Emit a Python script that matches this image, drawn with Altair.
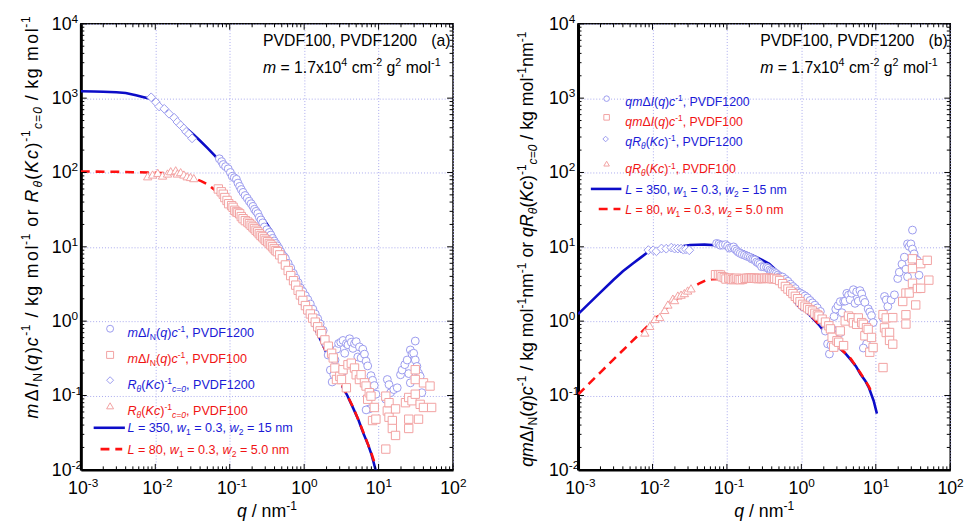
import altair as alt
import pandas as pd

F = "Liberation Sans"
W, H = 378, 453

# ---------------- data ----------------
circ_q = [0.0726, 0.0780, 0.0819, 0.0880, 0.0954, 0.102, 0.108, 0.115, 0.123, 0.129, 0.136, 0.143,
          0.151, 0.161, 0.172, 0.183, 0.194, 0.205, 0.215, 0.226, 0.238, 0.250, 0.263, 0.277, 0.292,
          0.315, 0.340, 0.357, 0.376, 0.395, 0.416, 0.437, 0.460, 0.485, 0.510, 0.535, 0.560, 0.610,
          0.660, 0.715, 0.770, 0.830, 0.890, 0.960, 1.04, 1.12, 1.21, 1.31, 1.41, 1.52, 1.64, 1.80,
          1.95, 2.10, 2.25, 2.38, 2.50, 2.60, 2.75, 2.90, 3.10, 3.33, 3.51, 3.70, 3.88, 4.08, 4.30,
          4.52, 4.75, 5.00, 5.26, 5.53, 5.82, 6.13, 6.46, 6.79, 7.14, 7.50, 6.80, 7.90, 8.30, 8.75,
          9.20, 3.33, 12.5, 13.1, 13.8, 14.5, 16.0, 17.8, 19.7, 20.7, 22.5, 24.2, 25.4, 26.7, 26.7,
          28.1, 29.6, 31.1, 31.1, 32.7, 34.4, 36.2, 38.1]
circ_y = [153, 140, 128, 120, 112, 100, 89, 85, 81, 72, 65, 59,
          54, 49, 45, 41, 38, 35, 32, 30, 28, 25, 23, 21, 18.5,
          17, 15.6, 14.4, 13, 12, 11.1, 10.3, 9.5, 8.6, 7.8, 7.4, 7.0, 6.0,
          5.2, 4.4, 3.8, 3.3, 2.8, 2.5, 2.2, 1.95, 1.7, 1.45, 1.25, 1.08, 0.92, 0.75,
          0.5, 0.35, 0.22, 0.152, 0.19, 0.30, 0.42, 0.50, 0.52, 0.55, 0.37, 0.50, 0.48, 0.58, 0.52,
          0.43, 0.50, 0.53, 0.33, 0.45, 0.32, 0.42, 0.36, 0.29, 0.25, 0.066, 0.064, 0.185, 0.16, 0.136,
          0.104, 0.21, 0.089, 0.164, 0.14, 0.109, 0.12, 0.127, 0.19, 0.22, 0.26, 0.30, 0.197, 0.41, 0.148,
          0.36, 0.37, 0.54, 0.30, 0.246, 0.20, 0.181, 0.109]

sq_q = [0.0703, 0.0769, 0.0819, 0.086, 0.092, 0.097, 0.106, 0.111, 0.117, 0.123, 0.129, 0.136,
        0.143, 0.151, 0.162, 0.175, 0.184, 0.194, 0.205, 0.215, 0.226, 0.238, 0.25, 0.263, 0.277,
        0.292, 0.307, 0.323, 0.34, 0.357, 0.376, 0.396, 0.417, 0.437, 0.47, 0.51, 0.56, 0.61, 0.66,
        0.72, 0.77, 0.83, 0.89, 0.96, 1.04, 1.12, 1.21, 1.30, 1.41, 1.52, 1.64, 1.72, 1.90, 2.11,
        2.34, 2.46, 2.59, 2.72, 3.01, 3.17, 3.33, 3.69, 3.88, 4.30, 4.75, 5.00, 5.53, 5.82, 6.46,
        6.79, 7.14, 7.50, 7.90, 8.30, 8.75, 9.20, 12.5, 12.5, 13.1, 13.8, 13.8, 15.3, 15.3, 16.9,
        16.9, 23.0, 25.4, 25.4, 25.4, 28.1, 31.1, 31.1, 31.1, 34.4, 36.2, 40.1, 40.1, 49.1, 51.6]
sq_y = [60, 55, 51, 46, 42, 38, 35.8, 34, 31, 29.5, 29, 27.8,
        25.5, 23.9, 22.5, 21.5, 20.5, 19.5, 18.5, 17.6, 16.7, 15.9, 15, 14.2, 13.6,
        12.8, 12.2, 11.7, 11.1, 10.6, 10, 9.4, 8.9, 8.6, 7.8, 6.9, 5.7, 4.8, 4.1,
        3.5, 3.05, 2.6, 2.25, 1.9, 1.62, 1.42, 1.25, 1.1, 0.97, 0.84, 0.74, 0.68, 0.56, 0.46,
        0.37, 0.32, 0.234, 0.164, 0.181, 0.164, 0.222, 0.127, 0.259, 0.272, 0.234, 0.19, 0.164, 0.19, 0.148,
        0.134, 0.089, 0.109, 0.098, 0.046, 0.069, 0.048, 0.098, 0.019, 0.062, 0.080, 0.051, 0.046, 0.036, 0.066,
        0.029, 0.080, 0.094, 0.048, 0.036, 0.085, 0.104, 0.164, 0.222, 0.048, 0.076, 0.148, 0.069, 0.134, 0.069]

dia_q = [0.0088, 0.0102, 0.0113, 0.0132, 0.0153, 0.0179, 0.0198, 0.0219, 0.0242, 0.026, 0.0282, 0.0312]
dia_y = [1026, 881, 771, 719, 617, 545, 478, 432, 391, 352, 329, 288]

tri_q = [0.0079, 0.0092, 0.0108, 0.0125, 0.0146, 0.0161, 0.0188, 0.0198, 0.0219, 0.0242, 0.0268, 0.0297, 0.0329]
tri_y = [89, 94, 99, 91, 97, 104, 107, 97, 101, 94, 89, 87, 84]

blue_q = [0.001, 0.0015, 0.002, 0.003, 0.004, 0.0055, 0.007, 0.0088, 0.011, 0.0137, 0.017, 0.021,
          0.026, 0.032, 0.04, 0.05, 0.063, 0.075, 0.09, 0.11, 0.13, 0.16, 0.2, 0.25, 0.3, 0.37,
          0.45, 0.55, 0.66, 0.78, 0.9, 1.0, 1.12, 1.3, 1.51, 1.75, 1.95, 2.05,
          3.23, 3.8, 4.6, 5.4, 6.24, 7.2, 8.04, 9.35, 10.35]
blue_y = [1240, 1232, 1222, 1200, 1170, 1095, 1030, 975, 840, 700, 585, 480,
          395, 330, 267, 214, 168, 138, 112, 90, 73, 55, 40, 29, 22, 16,
          11, 7.0, 4.2, 2.5, 1.8, 1.45, 1.24, 0.92, 0.68, 0.5, 0.39, 0.35,
          0.134, 0.1, 0.066, 0.046, 0.031, 0.022, 0.016, 0.0091, 0.0055]
blue_seg = [0] * 38 + [1] * 9

red_q = [0.001, 0.002, 0.003, 0.005, 0.008, 0.012, 0.017, 0.022, 0.028, 0.035, 0.042, 0.052,
         0.063, 0.08, 0.1, 0.13, 0.17, 0.22, 0.3, 0.4, 0.5, 0.6, 0.7, 0.8, 0.9, 1.0, 1.12,
         1.51, 1.95, 2.05, 3.23, 4.6, 6.24, 8.04, 8.8]
red_y = [103, 102.5, 102, 101, 100, 98.5, 96, 93, 88, 82, 76, 68,
         58, 46, 37, 28.5, 22, 17, 12.4, 9.2, 7.0, 5.2, 3.9, 2.9, 2.1, 1.6, 1.28,
         0.70, 0.40, 0.36, 0.138, 0.068, 0.032, 0.0165, 0.0125]
red_seg = [0] * 30 + [1] * 5

x_decades = [1e-3, 1e-2, 1e-1, 1, 10, 100]
x_exps = ["-3", "-2", "-1", "0", "1", "2"]
y_decades = [1e-2, 1e-1, 1, 10, 100, 1000, 10000]
y_exps = ["-2", "-1", "0", "1", "2", "3", "4"]
x_minor = [m * 10.0 ** k for k in range(-3, 2) for m in range(2, 10)]
y_minor = [m * 10.0 ** k for k in range(-2, 4) for m in range(2, 10)]

# ---------------- styles ----------------
C_CIRC = "#9a9aee"
C_SQ = "#f2a2a2"
C_BLUE = "#0c0cc8"
C_RED = "#ff1010"
T_BLUE = "#1a1ad6"
T_RED = "#f01414"
GRID = "#a9a9ee"

XS = alt.Scale(type="log", domain=[1e-3, 1e2], nice=False)
YS = alt.Scale(type="log", domain=[1e-2, 1e4], nice=False)
AXX = alt.Axis(values=x_decades, grid=True, gridColor=GRID, gridDash=[1, 2], gridWidth=1,
               labels=False, ticks=False, domain=True, domainColor="black", domainWidth=2.5, title=None)
AXY = alt.Axis(values=y_decades, grid=True, gridColor=GRID, gridDash=[1, 2], gridWidth=1,
               labels=False, ticks=False, domain=True, domainColor="black", domainWidth=3, title=None)

# ---------------- rich text helper (Arial metrics) ----------------
AW = {' ': 278, '(': 333, ')': 333, ',': 278, '-': 333, '.': 278, '/': 278, '=': 584,
      'A': 667, 'B': 667, 'C': 722, 'D': 722, 'E': 667, 'F': 611, 'G': 778, 'H': 722, 'I': 278,
      'J': 500, 'K': 667, 'L': 556, 'M': 833, 'N': 722, 'O': 778, 'P': 667, 'Q': 778, 'R': 722,
      'S': 667, 'T': 611, 'U': 722, 'V': 667, 'W': 944, 'X': 667, 'Y': 667, 'Z': 611,
      'a': 556, 'b': 556, 'c': 500, 'd': 556, 'e': 556, 'f': 278, 'g': 556, 'h': 556, 'i': 222,
      'j': 222, 'k': 500, 'l': 222, 'm': 833, 'n': 556, 'o': 556, 'p': 556, 'q': 556, 'r': 333,
      's': 500, 't': 278, 'u': 556, 'v': 500, 'w': 722, 'x': 500, 'y': 500, 'z': 500,
      'Δ': 668, 'θ': 556}
SMALL, SUP, SUB = 0.68, 0.40, 0.24


def tw(s, fs):
    return sum(AW.get(ch, 556) for ch in s) * fs / 1000.0


def rich(segs, x0, y0, fs, color, rot=False, anchor="start", stretch=1.0):
    sizes = [fs * SMALL if ("^" in st or "_" in st) else fs for t, st in segs]
    total = sum(tw(t, f) for (t, st), f in zip(segs, sizes)) * stretch
    off = {"start": 0.0, "middle": -total / 2.0, "end": -total}[anchor]
    rows = []
    for (t, st), f in zip(segs, sizes):
        shift = SUP * fs if "^" in st else (-SUB * fs if "_" in st else 0.0)
        pieces = list(t) if stretch != 1.0 else [t]
        for piece in pieces:
            lead = len(piece) - len(piece.lstrip(" "))
            o = off + tw(" " * lead, f) * stretch
            body = piece.strip(" ")
            if body:
                if rot:
                    px, py = x0 - shift, y0 - o
                else:
                    px, py = x0 + o, y0 - shift
                rows.append({"t": body, "px": px, "py": py, "fs": f, "c": color,
                             "it": "i" in st, "rot": rot})
            off += tw(piece, f) * stretch
    return rows


def text_layers(rows):
    df = pd.DataFrame(rows)
    out = []
    for it in (False, True):
        for rot in (False, True):
            sub = df[(df["it"] == it) & (df["rot"] == rot)]
            if len(sub) == 0:
                continue
            kw = dict(align="left", baseline="alphabetic", font=F,
                      fontStyle="italic" if it else "normal")
            if rot:
                kw["angle"] = 270
            out.append(alt.Chart(sub[["t", "px", "py", "fs", "c"]]).mark_text(**kw).encode(
                x=alt.X("px:Q", scale=None), y=alt.Y("py:Q", scale=None), text="t:N",
                size=alt.Size("fs:Q", scale=None), color=alt.Color("c:N", scale=None)))
    return out


def make_panel(right):
    expr = "datum.q * datum.y" if right else "datum.y"
    X = alt.X("q:Q", scale=XS, axis=AXX)
    Y = alt.Y("yy:Q", scale=YS, axis=AXY)
    layers = []

    def line(qs, ys, seg, color, dash):
        df = pd.DataFrame({"q": qs, "y": ys, "seg": seg})
        kw = dict(color=color, strokeWidth=2.6, clip=True)
        if dash:
            kw["strokeDash"] = [9, 6]
        return alt.Chart(df).transform_calculate(yy=expr).mark_line(**kw).encode(
            x=X, y=Y, detail="seg:N", order="q:Q")

    def pts(qs, ys, shape, stroke, size):
        df = pd.DataFrame({"q": qs, "y": ys})
        return alt.Chart(df).transform_calculate(yy=expr).mark_point(
            shape=shape, size=size, fill="white", fillOpacity=1, stroke=stroke,
            strokeWidth=1, opacity=1, clip=True).encode(x=X, y=Y)

    layers.append(line(blue_q, blue_y, blue_seg, C_BLUE, False))
    layers.append(line(red_q, red_y, red_seg, C_RED, True))
    layers.append(pts(circ_q, circ_y, "circle", C_CIRC, 64))
    layers.append(pts(sq_q, sq_y, "square", C_SQ, 72))
    layers.append(pts(dia_q, dia_y, "diamond", C_CIRC, 80))
    layers.append(pts(tri_q, tri_y, "triangle-up", C_SQ, 72))

    # inside ticks on all four sides
    for vals, L in ((x_decades, 6), (x_minor, 3.5)):
        d = pd.DataFrame({"q": vals})
        layers.append(alt.Chart(d).mark_rule(color="black", strokeWidth=1).encode(
            x=X, y=alt.value(H), y2=alt.value(H - L)))
        layers.append(alt.Chart(d).mark_rule(color="black", strokeWidth=1).encode(
            x=X, y=alt.value(0), y2=alt.value(L)))
    for vals, L in ((y_decades, 6), (y_minor, 3.5)):
        d = pd.DataFrame({"yy": vals})
        layers.append(alt.Chart(d).mark_rule(color="black", strokeWidth=1).encode(
            y=Y, x=alt.value(0), x2=alt.value(L)))
        layers.append(alt.Chart(d).mark_rule(color="black", strokeWidth=1).encode(
            y=Y, x=alt.value(W), x2=alt.value(W - L)))

    # tick labels 10^k
    dx = pd.DataFrame({"q": x_decades, "e": x_exps})
    layers.append(alt.Chart(dx).mark_text(align="right", baseline="alphabetic", dx=7, fontSize=18,
                                          font=F, color="black").encode(
        x=X, y=alt.value(H + 25), text=alt.value("10")))
    layers.append(alt.Chart(dx).mark_text(align="left", baseline="alphabetic", dx=7, fontSize=12,
                                          font=F, color="black").encode(
        x=X, y=alt.value(H + 17), text="e:N"))
    dy = pd.DataFrame({"yy": y_decades, "e": y_exps})
    layers.append(alt.Chart(dy).mark_text(align="right", baseline="alphabetic", dy=6, fontSize=18,
                                          font=F, color="black").encode(
        y=Y, x=alt.value(-9.5), text=alt.value("10")))
    layers.append(alt.Chart(dy).mark_text(align="left", baseline="alphabetic", dy=-1, fontSize=12,
                                          font=F, color="black").encode(
        y=Y, x=alt.value(-9.5), text="e:N"))

    # legend symbols and line samples
    if right:
        sym = [(29, 76, "circle", C_CIRC), (29, 95, "square", C_SQ),
               (28, 117, "diamond", C_CIRC), (29, 142, "triangle-up", C_SQ)]
        ssize = 32
        lines = [(13, 44, 167.7, C_BLUE, False), (21, 43, 188, C_RED, True)]
    else:
        sym = [(29.7, 309.7, "circle", C_CIRC), (29.7, 336.3, "square", C_SQ),
               (29.7, 362, "diamond", C_CIRC), (29.7, 388, "triangle-up", C_SQ)]
        ssize = 50
        lines = [(13, 44.7, 410.3, C_BLUE, False), (20, 42, 432, C_RED, True)]
    for sx, sy, shp, col in sym:
        layers.append(alt.Chart(pd.DataFrame({"k": [0]})).mark_point(
            shape=shp, size=ssize, fill="white", fillOpacity=1, stroke=col, strokeWidth=1).encode(
            x=alt.value(sx), y=alt.value(sy)))
    for x1, x2, yv, col, dash in lines:
        kw = dict(color=col, strokeWidth=2.6)
        if dash:
            kw["strokeDash"] = [9, 6]
        layers.append(alt.Chart(pd.DataFrame({"k": [0]})).mark_rule(**kw).encode(
            x=alt.value(x1), x2=alt.value(x2), y=alt.value(yv)))

    # texts
    rows = []
    rows += rich([("PVDF100, PVDF1200", "")], 185, 23, 16, "black")
    rows += rich([("(b)" if right else "(a)", "")], 356, 23, 16, "black")
    rows += rich([("m", "i"), (" = 1.7x10", ""), ("4", "^"), (" cm", ""), ("-2", "^"), (" g", ""),
                  ("2", "^"), (" mol", ""), ("-1", "^")], 185, 49.5, 16, "black")
    rows += rich([("q", "i"), (" / nm", ""), ("-1", "^")], W / 2.0, H + 48, 18, "black", anchor="middle")
    if right:
        fsl = 12.5
        tx = 48
        base = [83.7, 103.7, 123.7, 152, 173, 193]
        leg = [
            ([("qm", "i"), ("Δ", ""), ("I", "i"), ("(", ""), ("q", "i"), (")", ""), ("c", "i"),
              ("-1", "^"), (", PVDF1200", "")], T_BLUE),
            ([("qm", "i"), ("Δ", ""), ("I", "i"), ("(", ""), ("q", "i"), (")", ""), ("c", "i"),
              ("-1", "^"), (", PVDF100", "")], T_RED),
            ([("qR", "i"), ("θ", "i_"), ("(", ""), ("Kc", "i"), (")", ""), ("-1", "^"),
              (", PVDF1200", "")], T_BLUE),
            ([("qR", "i"), ("θ", "i_"), ("(", ""), ("Kc", "i"), (")", ""), ("-1", "^"),
              (", PVDF100", "")], T_RED),
        ]
        ytitle = [("qm", "i"), ("Δ", ""), ("I", "i"), ("N", "_"), ("(", ""), ("q", "i"), (")", ""),
                  ("c", "i"), ("-1", "^"), (" / kg mol", ""), ("-1", "^"), ("nm", ""), ("-1", "^"),
                  (" or ", ""), ("qR", "i"), ("θ", "i_"), ("(", ""), ("Kc", "i"), (")", ""),
                  ("-1", "^"), ("c=0", "i_"), (" / kg mol", ""), ("-1", "^"), ("nm", ""), ("-1", "^")]
        rows += rich(ytitle, -46, 450, 18, "black", rot=True, stretch=1.0)
    else:
        fsl = 12.8
        tx = 47.3
        base = [318, 344.5, 371, 397, 415, 436.5]
        leg = [
            ([("m", "i"), ("Δ", ""), ("I", "i"), ("N", "_"), ("(", ""), ("q", "i"), (")", ""),
              ("c", "i"), ("-1", "^"), (", PVDF1200", "")], T_BLUE),
            ([("m", "i"), ("Δ", ""), ("I", "i"), ("N", "_"), ("(", ""), ("q", "i"), (")", ""),
              ("c", "i"), ("-1", "^"), (", PVDF100", "")], T_RED),
            ([("R", "i"), ("θ", "i_"), ("(", ""), ("Kc", "i"), (")", ""), ("-1", "^"),
              ("c=0", "i_"), (", PVDF1200", "")], T_BLUE),
            ([("R", "i"), ("θ", "i_"), ("(", ""), ("Kc", "i"), (")", ""), ("-1", "^"),
              ("c=0", "i_"), (", PVDF100", "")], T_RED),
        ]
        ytitle = [("m", "i"), ("Δ", ""), ("I", "i"), ("N", "_"), ("(", ""), ("q", "i"), (")", ""),
                  ("c", "i"), ("-1", "^"), (" / kg mol", ""), ("-1", "^"), (" or ", ""), ("R", "i"),
                  ("θ", "i_"), ("(", ""), ("Kc", "i"), (")", ""), ("-1", "^"), ("c=0", "i_"),
                  (" / kg mol", ""), ("-1", "^")]
        rows += rich(ytitle, -44, 401, 18, "black", rot=True, stretch=1.17)
    leg += [
        ([("L", "i"), (" = 350, ", ""), ("w", "i"), ("1", "_"), (" = 0.3, ", ""), ("w", "i"),
          ("2", "_"), (" = 15 nm", "")], T_BLUE),
        ([("L", "i"), (" = 80, ", ""), ("w", "i"), ("1", "_"), (" = 0.3, ", ""), ("w", "i"),
          ("2", "_"), (" = 5.0 nm", "")], T_RED),
    ]
    for (segs, col), b in zip(leg, base):
        rows += rich(segs, tx, b, fsl, col)
    layers += text_layers(rows)

    return alt.layer(*layers).properties(width=W, height=H)


chart = alt.hconcat(make_panel(False), make_panel(True), spacing=48).properties(
    padding={"left": 12, "top": 0, "right": 0, "bottom": 0}
).configure_view(stroke="black", strokeWidth=1.5)

chart.save("out.html", embed_options={"renderer": "svg", "actions": False})
